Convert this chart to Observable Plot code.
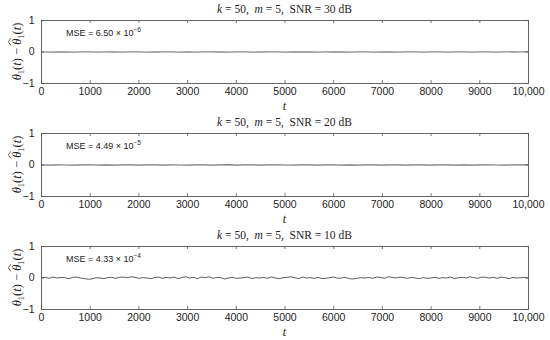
<!DOCTYPE html>
<html><head><meta charset="utf-8">
<script src="https://cdn.jsdelivr.net/npm/d3@7"></script>
<script src="https://cdn.jsdelivr.net/npm/@observablehq/plot@0.6"></script>
<style>
body{margin:0;background:#fff}
#chart{width:550px;height:340px;overflow:hidden}
#chart svg{display:block}
</style>
</head><body><div id="chart"></div>
<script>
// ---- data ----
const kValue = "50";
const mValue = "5";
const snrLabels = ["30", "20", "10"];
const mseMantissa = ["6.50", "4.49", "4.33"];
const mseExponent = ["−6", "−5", "−4"];
const xTicks = [0, 1000, 2000, 3000, 4000, 5000, 6000, 7000, 8000, 9000, 10000];
const xTickLabels = ["0", "1000", "2000", "3000", "4000", "5000", "6000", "7000", "8000", "9000", "10,000"];
const yTicks = [1, 0, -1];
const yTickLabels = ["1", "0", "−1"];
const tMax = 10000;

const err30 = [0.002,-0.001,0.003,0.0,-0.002,0.001,0.003,-0.001,0.002,0.0,-0.003,0.001,0.002,-0.002,0.0,0.003,0.001,-0.001,0.002,-0.002,0.001,0.003,0.0,-0.001,0.002,0.001,-0.003,0.0,0.002,0.001,-0.001,0.003,0.0,0.002,-0.002,0.001,0.0,0.003,-0.001,0.002,0.001,-0.002,0.004,0.0,-0.003,0.002,0.005,-0.002,0.001,0.004,-0.003,0.002,0.004,-0.002,0.003,0.001,-0.003,0.004,0.0,0.002,0.001];
const err20 = [0.004,-0.003,0.006,0.0,-0.005,0.003,0.008,-0.002,0.004,-0.006,0.002,0.007,-0.004,0.001,0.006,-0.003,0.005,0.0,-0.007,0.003,0.006,-0.002,0.004,0.009,-0.003,0.002,0.005,-0.005,0.003,0.007,0.0,-0.004,0.006,0.002,-0.006,0.004,0.008,-0.001,0.003,-0.005,0.006,0.002,-0.003,0.007,0.001,-0.004,0.005,0.003,-0.006,0.004,0.007,-0.002,0.005,-0.004,0.003,0.008,0.0,-0.005,0.004,0.006,0.002];
const err10 = [0.01,0.02,-0.01,0.03,0.0,0.02,0.01,-0.02,0.02,0.03,0.0,-0.02,-0.04,-0.03,0.01,0.0,-0.02,0.01,0.02,-0.01,0.02,0.03,0.01,0.04,0.02,-0.01,0.01,0.0,-0.02,0.01,0.03,-0.01,0.02,0.0,0.03,-0.02,0.01,0.04,0.0,0.02,-0.02,0.03,0.01,0.04,-0.01,0.02,0.01,-0.03,0.0,0.02,-0.01,0.0,0.01,0.03,-0.02,0.01,0.0,0.02,-0.01,0.03,0.0,-0.02,0.01,0.02,0.04,0.01,-0.02,0.03,0.0,0.01,-0.01,0.02,-0.02,-0.01,0.01,0.03,-0.01,0.0,0.02,-0.02,-0.03,-0.01,0.01,0.0,0.02,-0.01,0.03,0.02,-0.01,0.04,0.02,0.0,0.03,0.01,-0.01,0.02,0.0,-0.02,0.01,-0.01,0.0,0.02,-0.01,0.01,0.0,0.03,-0.02,0.01,0.02,0.0,0.04,0.01,-0.01,0.03,0.02,0.0,0.02,-0.01,0.03,0.01,-0.02,0.02,0.0,0.01,0.02,0.0];

const series = [err30, err20, err10];
const panelHeights = [113, 113, 114];
const lineColors = ["#888", "#777", "#333"];
const lineWidths = [1.3, 1.2, 0.8];

// ---- drawing ----
const W = 550, mL = 41, mR = 22, mT = 20, plotH = 63;
const plotW = W - mL - mR;
const serif = "'Liberation Serif','Times New Roman',serif";
const sans = "'Liberation Sans',Arial,Helvetica,sans-serif";
const NB = "\u00a0";
const hatJobs = [];

function panel(i) {
  const values = series[i];
  const step = tMax / (values.length - 1);
  const data = values.map((v, j) => ({t: j * step, e: v}));
  const height = panelHeights[i];
  const mB = height - mT - plotH;
  const tickLenY = 3 / plotH * 2;        // 3px in y data units
  const tickLenX = 3 / plotW * tMax;     // 3px in x data units
  const frameColor = "#555";
  const svgEl = Plot.plot({
    width: W, height,
    marginLeft: mL, marginRight: mR, marginTop: mT, marginBottom: mB,
    style: {fontFamily: sans, fontSize: "10.5px", color: "#222", background: "#fff"},
    x: {domain: [0, tMax]},
    y: {domain: [-1, 1]},
    marks: [
      Plot.line(data, {x: "t", y: "e", stroke: lineColors[i], strokeWidth: lineWidths[i]}),
      Plot.ruleX(xTicks, {x: d => d, y1: -1, y2: -1 + tickLenY, stroke: frameColor, strokeWidth: 0.8}),
      Plot.ruleX(xTicks, {x: d => d, y1: 1, y2: 1 - tickLenY, stroke: frameColor, strokeWidth: 0.8}),
      Plot.ruleY(yTicks, {y: d => d, x1: 0, x2: tickLenX, stroke: frameColor, strokeWidth: 0.8}),
      Plot.ruleY(yTicks, {y: d => d, x1: tMax, x2: tMax - tickLenX, stroke: frameColor, strokeWidth: 0.8}),
      Plot.frame({stroke: frameColor, strokeWidth: 0.9}),
      Plot.axisX(xTicks, {tickSize: 0, tickPadding: 4, label: null,
        tickFormat: d => xTickLabels[xTicks.indexOf(d)]}),
      Plot.axisY(yTicks, {tickSize: 0, tickPadding: 7, label: null,
        tickFormat: d => yTickLabels[yTicks.indexOf(d)]})
    ]
  });
  const svg = d3.select(svgEl);
  const cx = mL + plotW / 2;

  // title
  const title = svg.append("text")
    .attr("x", cx).attr("y", mT - 7)
    .attr("text-anchor", "middle")
    .attr("fill", "#222")
    .style("font-family", serif).style("font-size", "11.5px");
  title.append("tspan").attr("font-style", "italic").text("k");
  title.append("tspan").text(NB + "=" + NB + kValue + "," + NB + NB);
  title.append("tspan").attr("font-style", "italic").text("m");
  title.append("tspan").text(NB + "=" + NB + mValue + "," + NB + NB + "SNR" + NB + "=" + NB + snrLabels[i] + NB + "dB");

  // MSE annotation
  const mse = svg.append("text")
    .attr("x", mL + 25).attr("y", mT + 16)
    .attr("text-anchor", "start")
    .attr("fill", "#222")
    .style("font-family", sans).style("font-size", "9px");
  mse.append("tspan").text("MSE = " + mseMantissa[i] + " × 10");
  mse.append("tspan").attr("dy", -4).style("font-size", "6.5px").text(mseExponent[i]);

  // y label (rotated group)
  const g = svg.append("g")
    .attr("transform", `translate(20.5,${mT + plotH / 2}) rotate(-90)`);
  const yl = g.append("text")
    .attr("text-anchor", "middle")
    .attr("fill", "#222")
    .style("font-family", serif).style("font-size", "12.5px").style("font-weight", "normal");
  yl.append("tspan").attr("font-style", "italic").text("θ");
  yl.append("tspan").attr("dy", 3).style("font-size", "8.5px").text("1");
  yl.append("tspan").attr("dy", -3).text("(");
  yl.append("tspan").attr("font-style", "italic").text("t");
  yl.append("tspan").text(")" + NB + "−" + NB);
  yl.append("tspan").attr("font-style", "italic").text("θ");
  yl.append("tspan").attr("dy", 3).style("font-size", "8.5px").text("1");
  yl.append("tspan").attr("dy", -3).text("(");
  yl.append("tspan").attr("font-style", "italic").text("t");
  yl.append("tspan").text(")");
  hatJobs.push({g, text: yl.node(), index: 8});

  // x label
  svg.append("text")
    .attr("x", cx).attr("y", mT + plotH + 27)
    .attr("text-anchor", "middle")
    .attr("fill", "#222")
    .style("font-family", serif).style("font-size", "12px").style("font-style", "italic")
    .text("t");

  return svgEl;
}

const root = document.getElementById("chart");
for (let i = 0; i < 3; i++) root.appendChild(panel(i));

// wide hat over the second theta
for (const job of hatJobs) {
  try {
    const ext = job.text.getExtentOfChar(job.index);
    const x0 = ext.x - 0.5, x1 = ext.x + ext.width + 0.5;
    const top = -9.4;
    job.g.append("path")
      .attr("d", `M${x0},${top - 0.3}L${(x0 + x1) / 2},${top - 2.8}L${x1},${top - 0.3}`)
      .attr("fill", "none").attr("stroke", "#222").attr("stroke-width", 0.7);
  } catch (e) {}
}
</script>
</body></html>
